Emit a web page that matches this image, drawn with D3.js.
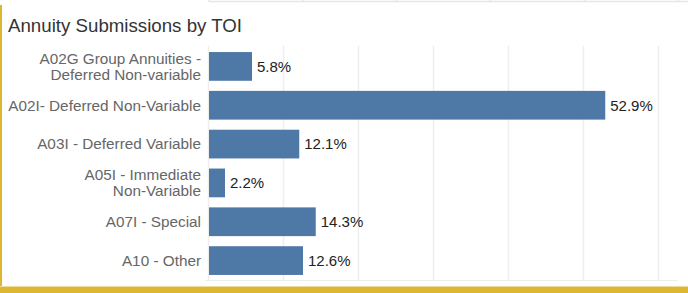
<!DOCTYPE html>
<html>
<head>
<meta charset="utf-8">
<script src="https://cdn.jsdelivr.net/npm/d3@7"></script>
<style>
  body { margin: 0; background: #fff; }
  svg { display: block; font-family: "Liberation Sans", Arial, sans-serif; }
</style>
</head>
<body>
<script>
// data
var categories = [
  "A02G Group Annuities -|Deferred Non-variable",
  "A02I- Deferred Non-Variable",
  "A03I - Deferred Variable",
  "A05I - Immediate|Non-Variable",
  "A07I - Special",
  "A10 - Other"
];
var shares = [5.8, 52.9, 12.1, 2.2, 14.3, 12.6];
var gridTicks = [0, 10, 20, 30, 40, 50, 60];

var width = 688, height = 293;
var gold = "#ddb731";

var svg = d3.select("body").append("svg")
    .attr("width", width)
    .attr("height", height);

// leftover bits of the panel above
var topX = d3.scaleLinear().domain([0, 6]).range([209, 772]);
svg.append("line")
    .attr("x1", 209).attr("x2", width)
    .attr("y1", 1.5).attr("y2", 1.5)
    .style("stroke", "#e6e6e6").style("stroke-width", 1.5);
svg.selectAll(".topgrid")
    .data(d3.range(6))
  .enter().append("line")
    .attr("class", "topgrid")
    .attr("x1", function(d) { return topX(d); })
    .attr("x2", function(d) { return topX(d); })
    .attr("y1", 0).attr("y2", 2)
    .style("stroke", "#e6e6e6").style("stroke-width", 1.5);

// title
svg.append("text")
    .attr("x", 8)
    .attr("y", 32)
    .style("font-size", "18.7px")
    .style("fill", "#333")
    .text("Annuity Submissions by TOI");

var x = d3.scaleLinear()
    .domain([0, 60])
    .range([208.5, 658.5]);

var y = d3.scaleBand()
    .domain(categories)
    .range([47, 280])
    .paddingInner(0.26)
    .paddingOuter(0.13);

// gridlines
svg.selectAll(".grid")
    .data(gridTicks)
  .enter().append("line")
    .attr("class", "grid")
    .attr("x1", function(d) { return x(d); })
    .attr("x2", function(d) { return x(d); })
    .attr("y1", 46).attr("y2", 280)
    .style("stroke", "#eeeeee").style("stroke-width", 1.5);

svg.append("line")
    .attr("x1", 205).attr("x2", 678)
    .attr("y1", 280.5).attr("y2", 280.5)
    .style("stroke", "#eeeeee").style("stroke-width", 1);

// bars
svg.selectAll(".bar")
    .data(shares)
  .enter().append("rect")
    .attr("class", "bar")
    .attr("x", x(0) + 0.5)
    .attr("y", function(d, i) { return y(categories[i]); })
    .attr("width", function(d) { return x(d) - x(0) - 0.5; })
    .attr("height", y.bandwidth())
    .style("fill", "#4e79a7");

// value labels
svg.selectAll(".val")
    .data(shares)
  .enter().append("text")
    .attr("class", "val")
    .attr("x", function(d) { return x(d) + 5; })
    .attr("y", function(d, i) { return y(categories[i]) + y.bandwidth() / 2; })
    .attr("dy", "0.35em")
    .style("font-size", "15px")
    .style("fill", "#222")
    .text(function(d) { return d.toFixed(1) + "%"; });

// category labels
var labels = svg.selectAll(".cat")
    .data(categories)
  .enter().append("text")
    .attr("class", "cat")
    .attr("text-anchor", "end")
    .style("font-size", "15.3px")
    .style("fill", "#666")
    .attr("transform", function(d) {
      return "translate(201," + (y(d) + y.bandwidth() / 2) + ")";
    });

labels.each(function(d) {
  var lines = d.split("|");
  var t = d3.select(this);
  lines.forEach(function(l, i) {
    t.append("tspan")
      .attr("x", 0)
      .attr("y", (i - (lines.length - 1) / 2) * 16)
      .attr("dy", "0.35em")
      .text(l);
  });
});

// gold frame
svg.append("rect")
    .attr("x", 0).attr("y", 5)
    .attr("width", 2).attr("height", height - 5)
    .style("fill", gold);
svg.append("rect")
    .attr("x", 0).attr("y", 287)
    .attr("width", width).attr("height", 6)
    .style("fill", gold);
svg.append("line")
    .attr("x1", 0).attr("x2", width)
    .attr("y1", 286.5).attr("y2", 286.5)
    .style("stroke", "#eedb98");
</script>
</body>
</html>
